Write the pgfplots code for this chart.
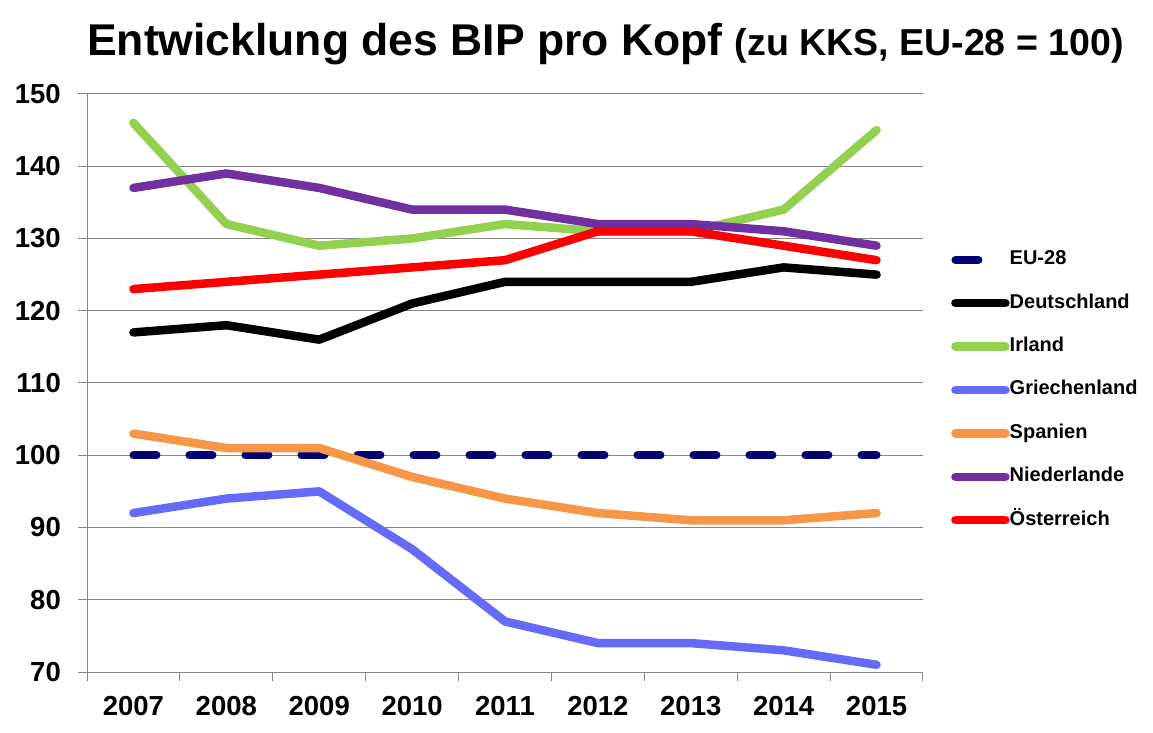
\documentclass[border=0pt]{standalone}
\usepackage{fontspec}
\setmainfont{Liberation Sans}
\usepackage{pgfplots}
\pgfplotsset{compat=1.18}

\definecolor{euc}{RGB}{0,0,112}
\definecolor{iec}{RGB}{146,208,80}
\definecolor{grc}{RGB}{102,106,248}
\definecolor{esc}{RGB}{247,150,70}
\definecolor{nlc}{RGB}{112,48,160}
\definecolor{atc}{RGB}{255,0,0}
\definecolor{gridc}{RGB}{134,134,134}

\begin{document}
\begin{tikzpicture}
\path[use as bounding box] (0,0) rectangle (1153bp,733bp);
\node[anchor=base west, inner sep=0pt] at (87bp,677bp)
  {\fontsize{44.5bp}{54bp}\selectfont\bfseries Entwicklung des BIP pro Kopf \fontsize{37.5bp}{43bp}\selectfont(zu KKS, EU-28 = 100)};
\begin{axis}[
  at={(87bp,61bp)}, anchor=south west,
  scale only axis, width=836bp, height=578bp,
  xmin=-0.5, xmax=8.5, ymin=70, ymax=150,
  axis x line*=bottom, axis y line*=left,
  axis line style={gridc, line width=1bp, -},
  xtick={0,1,2,3,4,5,6,7,8},
  xticklabels={2007,2008,2009,2010,2011,2012,2013,2014,2015},
  minor xtick={-0.5,0.5,1.5,2.5,3.5,4.5,5.5,6.5,7.5,8.5},
  major x tick style={draw=none},
  minor x tick style={gridc, line width=1bp},
  ytick={70,80,90,100,110,120,130,140,150},
  y tick style={gridc, line width=1bp},
  tick align=outside,
  major tick length=9bp, minor tick length=9bp,
  ymajorgrids, major grid style={gridc, line width=1bp},
  ticklabel style={font=\fontsize{27.5bp}{32bp}\selectfont\bfseries, inner sep=0pt},
  /pgf/number format/assume math mode=true,
  xticklabel shift=15bp,
  yticklabel shift=17bp,
  legend cell align=left,
  legend style={at={(1.0335,0.4879)}, anchor=west, draw=none, fill=none,
    font=\fontsize{20bp}{24bp}\selectfont\bfseries,
    inner sep=0pt, row sep=25.4bp,
    nodes={inner sep=0pt, text height=14bp, text depth=4bp}},
  legend image code/.code={\draw[line cap=round,#1] (0bp,0bp) -- (50bp,0bp);},
  every axis plot/.append style={line width=8.5bp, line cap=round, line join=round},
]
\addplot[euc, line width=8bp, dash pattern=on 23bp off 33bp] coordinates {(0,100) (1,100) (2,100) (3,100) (4,100) (5,100) (6,100) (7,100) (8,100)};
\addlegendentry{EU-28}
\addplot[black] coordinates {(0,117) (1,118) (2,116) (3,121) (4,124) (5,124) (6,124) (7,126) (8,125)};
\addlegendentry{Deutschland}
\addplot[iec] coordinates {(0,146) (1,132) (2,129) (3,130) (4,132) (5,131) (6,131) (7,134) (8,145)};
\addlegendentry{Irland}
\addplot[grc] coordinates {(0,92) (1,94) (2,95) (3,87) (4,77) (5,74) (6,74) (7,73) (8,71)};
\addlegendentry{Griechenland}
\addplot[esc] coordinates {(0,103) (1,101) (2,101) (3,97) (4,94) (5,92) (6,91) (7,91) (8,92)};
\addlegendentry{Spanien}
\addplot[nlc] coordinates {(0,137) (1,139) (2,137) (3,134) (4,134) (5,132) (6,132) (7,131) (8,129)};
\addlegendentry{Niederlande}
\addplot[atc] coordinates {(0,123) (1,124) (2,125) (3,126) (4,127) (5,131) (6,131) (7,129) (8,127)};
\addlegendentry{Österreich}
\end{axis}
\end{tikzpicture}
\end{document}
